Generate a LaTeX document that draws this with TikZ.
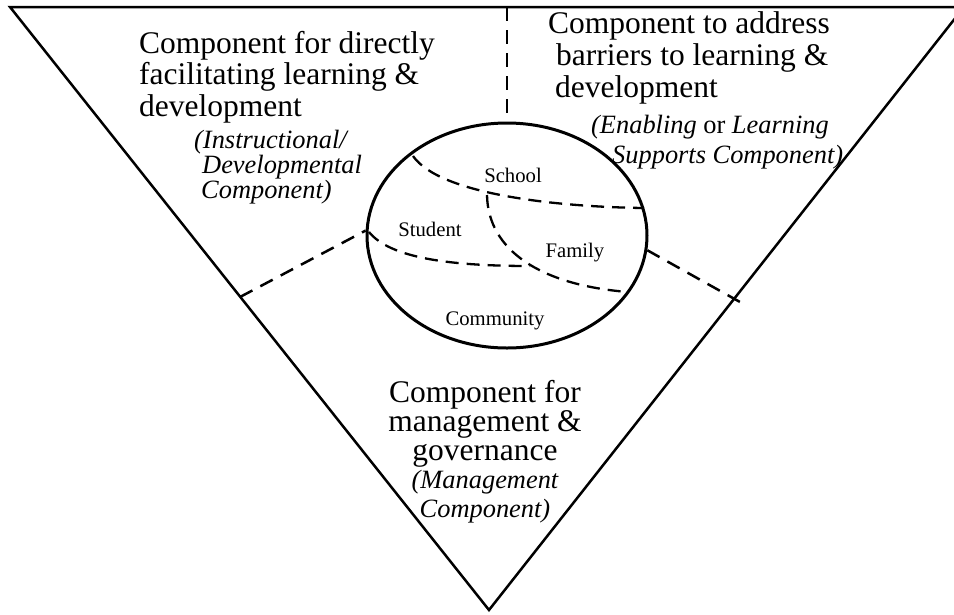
\documentclass[tikz,border=0pt]{standalone}
\usepackage{fontspec}
\setmainfont{Liberation Serif}
\usetikzlibrary{shapes.geometric}
\begin{document}
\begin{tikzpicture}[x=1pt,y=-1pt,
  frame/.style={line width=2.5pt, line join=miter},
  ring/.style={ellipse, draw, line width=3pt, minimum width=280pt, minimum height=225pt, inner sep=0pt},
  divider/.style={line width=2.5pt, dash pattern=on 14pt off 9pt},
  zone/.style={line width=2.3pt, dash pattern=on 13pt off 8pt},
  big/.style={inner sep=0pt, font=\fontsize{31.5}{#1}\selectfont},
  big/.default=31.5,
  sub/.style={inner sep=0pt, font=\fontsize{26.4}{#1}\selectfont\itshape},
  sub/.default=29.5,
  small/.style={inner sep=0pt, font=\fontsize{20.7}{20.7}\selectfont}
]
\useasboundingbox (0,0) rectangle (954,614);
% triangle
\coordinate (TL) at (10,7);
\coordinate (TR) at (964,7);
\coordinate (B) at (489,610);
\draw[frame] (TL) -- (TR) -- (B) -- cycle;
% central ellipse
\node[ring] (core) at (507,235.5) {};
% dividers
\coordinate (topmid) at (507,7);
\coordinate (leftcut) at (240,297);
\coordinate (rightcut) at (740,302);
\draw[divider] (topmid) -- (core.north);
\draw[divider] (leftcut) -- (core.178);
\draw[divider] (core.-6) -- (rightcut);
% inner zones
\coordinate (a0) at (413,156);
\coordinate (a1) at (644,208);
\coordinate (b0) at (487,195);
\coordinate (b1) at (628,292);
\coordinate (c0) at (369,232);
\coordinate (c1) at (530,266);
\draw[zone] (a0) .. controls (440,195) and (560,207) .. (a1);
\draw[zone] (b0) .. controls (488,250) and (540,285) .. (b1);
\draw[zone] (c0) .. controls (390,258) and (450,266) .. (c1);
% inner labels
\node[small] (school) at (513,175) {School};
\node[small] (student) at (430,229) {Student};
\node[small] (family) at (575,253) {Family};
\node[small] (community) at (495,321) {Community};
% left component (anchor = baseline of last line)
\node[big, anchor=base west, align=left] (left) at (139,116)
  {Component for directly\\facilitating learning \&\\development};
\node[sub=23, anchor=base west, align=left] (leftsub) at (194,198)
  {(Instructional/\\\hspace*{8pt}Developmental\\\hspace*{7pt}Component)};
% right component
\node[big=32, anchor=base west, align=left] (right) at (548,97)
  {Component to address\\\hspace*{8pt}barriers to learning \&\\\hspace*{7pt}development};
\node[sub=30, anchor=base west, align=left] (rightsub) at (591,163)
  {(Enabling \textup{or} Learning\\\hspace*{21pt}Supports Component)};
% bottom component
\node[big=29, anchor=base, align=center] (bottom) at (485,460)
  {Component for\\management \&\\governance};
\node[sub=29, anchor=base, align=center] (bottomsub) at (485,517)
  {(Management\\Component)};
\end{tikzpicture}
\end{document}
